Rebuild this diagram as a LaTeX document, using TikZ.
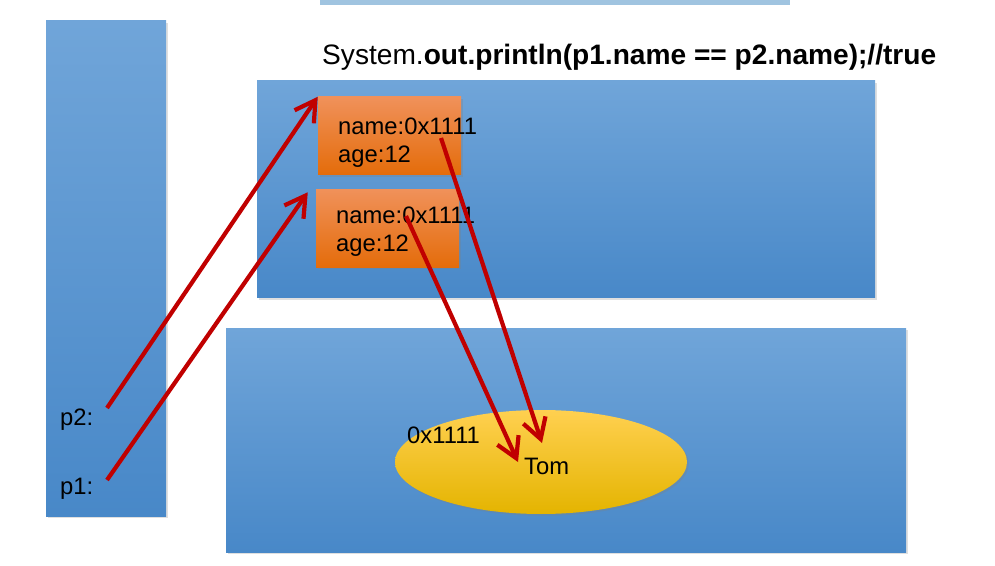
\documentclass[tikz,border=0pt]{standalone}
\usepackage{fontspec}
\setmainfont{Liberation Sans}
\usetikzlibrary{positioning, calc, shapes.geometric, arrows.meta, shadows}
\definecolor{memtop}{RGB}{112,165,217}
\definecolor{membot}{RGB}{72,136,200}
\definecolor{objtop}{RGB}{240,145,90}
\definecolor{objbot}{RGB}{228,108,10}
\definecolor{strtop}{RGB}{255,208,80}
\definecolor{strmid}{RGB}{255,194,0}
\definecolor{strbot}{RGB}{228,180,0}
\definecolor{refred}{RGB}{192,0,0}
\definecolor{codestrip}{RGB}{160,196,224}

\begin{document}
\begin{tikzpicture}[
        x=0.03cm, y=-0.03cm,
        area/.style={rectangle, draw=none, top color=memtop, bottom color=membot,
                     drop shadow={opacity=0.25, shadow xshift=2pt, shadow yshift=-2pt}},
        objbox/.style={rectangle, draw=none, top color=objtop, bottom color=objbot,
                       minimum width=143*0.03cm, minimum height=78*0.03cm,
                       drop shadow={opacity=0.3, shadow xshift=1.5pt, shadow yshift=-1.5pt}},
        strobj/.style={ellipse, draw=none, top color=strtop, middle color=strmid, bottom color=strbot,
                       minimum width=292*0.03cm, minimum height=104*0.03cm,
                       drop shadow={opacity=0.3, shadow xshift=1.5pt, shadow yshift=-1.5pt}},
        txt/.style={font=\fontsize{20.3}{24}\selectfont, anchor=base west, inner sep=0pt},
        ref/.style={-{Straight Barb[length=6mm, width=7mm]}, line width=3.6pt, refred},
    ]
    \useasboundingbox (0,0) rectangle (995,566);

    % ---- cut-off code line at the top ----
    \fill[codestrip] (320,0) rectangle (790,5);

    % ---- memory areas: stack, heap, string pool ----
    \node[area, minimum width=120*0.03cm, minimum height=495*0.03cm] (STACK) at (106,268.5) {};
    \node[area, minimum width=618*0.03cm, minimum height=217*0.03cm] (HEAP) at (566,189.5) {};
    \node[area, minimum width=680*0.03cm, minimum height=224*0.03cm] (POOL) at (566,440) {};

    % ---- title line ----
    \node[font=\fontsize{24}{28}\selectfont, anchor=base west, inner sep=0pt] (TITLE) at (322,65)
        {System.\textbf{out.println(p1.name == p2.name);//true}};

    % ---- heap objects ----
    \node[objbox] (OBJ1) at (389.5,136) {};
    \node[objbox] (OBJ2) at (387.5,228.5) {};
    \node[txt] (NAME1) at (338,135) {name:0x1111};
    \node[txt] (AGE1) at (338,163) {age:12};
    \node[txt] (NAME2) at (336,224) {name:0x1111};
    \node[txt] (AGE2) at (336,252) {age:12};

    % ---- string object ----
    \node[strobj] (TOM) at (541,462) {};
    \node[txt] (ADDR) at (407,443) {0x1111};
    \node[txt] (TOMTXT) at (524,474) {Tom};

    % ---- stack variables ----
    \node[txt] (P2) at (60,425) {p2:};
    \node[txt] (P1) at (60,494) {p1:};

    % ---- reference ends ----
    \coordinate (P2R) at (107,408);
    \coordinate (P1R) at (107,480);
    \coordinate (N1R) at (441,138);
    \coordinate (N2R) at (406,216);
    \coordinate (T1) at (542,443);
    \coordinate (T2) at (518,462);

    % ---- references ----
    \draw[ref] (P2R) -- (OBJ1.north west);
    \draw[ref] (P1R) -- ($(OBJ2.north west)+(-8,3)$);
    \draw[ref] (N1R) -- (T1);
    \draw[ref] (N2R) -- (T2);

\end{tikzpicture}
\end{document}
